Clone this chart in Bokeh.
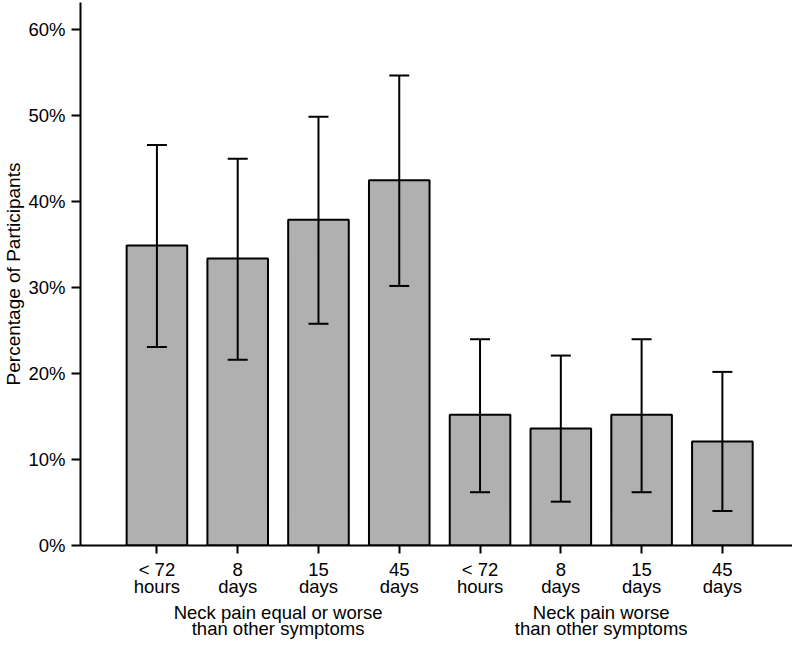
from bokeh.plotting import figure
from bokeh.models import ColumnDataSource, FixedTicker, Whisker, TeeHead, LinearAxis
from bokeh.embed import file_html
from bokeh.resources import INLINE

# ---- data ----
periods = ["< 72\nhours", "8\ndays", "15\ndays", "45\ndays",
           "< 72\nhours", "8\ndays", "15\ndays", "45\ndays"]
groups = ["Neck pain equal or worse\nthan other symptoms",
          "Neck pain worse\nthan other symptoms"]
percent = [34.9, 33.4, 37.9, 42.5, 15.2, 13.6, 15.2, 12.1]
ci_upper = [46.6, 45.0, 49.9, 54.7, 24.0, 22.1, 24.0, 20.2]
ci_lower = [23.1, 21.6, 25.8, 30.2, 6.2, 5.1, 6.2, 4.0]
y_ticks = [0, 10, 20, 30, 40, 50, 60]
y_tick_labels = ["0%", "10%", "20%", "30%", "40%", "50%", "60%"]
y_title = "Percentage of Participants"

FONT = "Liberation Sans"
FS = "18.5px"
W, H = 792, 642

xpos = list(range(1, len(percent) + 1))
src = ColumnDataSource(dict(x=xpos, top=percent, upper=ci_upper, lower=ci_lower))

p = figure(width=W, height=H, x_range=(0.054, 8.868), y_range=(0, 63.18),
           output_backend="svg", toolbar_location=None,
           min_border_left=79, min_border_right=0, min_border_top=2, min_border_bottom=97)
p.background_fill_color = "white"
p.border_fill_color = "white"
p.outline_line_color = None
p.grid.visible = False

p.vbar(x="x", top="top", width=0.75, source=src, fill_color="#b0b0b0",
       line_color="black", line_width=2)

w = Whisker(base="x", upper="upper", lower="lower", source=src, level="overlay",
            line_color="black", line_width=2,
            upper_head=TeeHead(size=20, line_width=2, line_color="black"),
            lower_head=TeeHead(size=20, line_width=2, line_color="black"))
p.add_layout(w)

# axes
for ax in (p.xaxis[0], p.yaxis[0]):
    ax.axis_line_width = 2
    ax.axis_line_color = "black"
    ax.major_tick_line_width = 2
    ax.major_tick_line_color = "black"
    ax.minor_tick_line_color = None
    ax.major_tick_in = 0
    ax.major_label_text_font = FONT
    ax.major_label_text_font_size = FS
    ax.major_label_text_color = "black"

p.xaxis.ticker = FixedTicker(ticks=xpos)
p.xaxis.major_label_overrides = {x: lab for x, lab in zip(xpos, periods)}
p.xaxis.major_tick_out = 8
p.xaxis.major_label_standoff = 5
p.xaxis.major_label_text_line_height = 0.85

p.yaxis.ticker = FixedTicker(ticks=y_ticks)
p.yaxis.major_label_overrides = {t: lab for t, lab in zip(y_ticks, y_tick_labels)}
p.yaxis.major_tick_out = 9
p.yaxis.major_label_standoff = 6
p.yaxis.axis_label = y_title
p.yaxis.axis_label_text_font = FONT
p.yaxis.axis_label_text_font_size = "19px"
p.yaxis.axis_label_text_font_style = "normal"
p.yaxis.axis_label_text_color = "black"
p.yaxis.axis_label_standoff = 1

# group labels as a second, line-less axis below the first
n = len(percent) // len(groups)
group_centers = [sum(xpos[gi * n:(gi + 1) * n]) / n for gi in range(len(groups))]
gax = LinearAxis(ticker=FixedTicker(ticks=group_centers),
                 major_label_overrides={c: g for c, g in zip(group_centers, groups)},
                 axis_line_color=None, major_tick_line_color=None, minor_tick_line_color=None,
                 major_tick_in=0, major_tick_out=0, major_label_standoff=1,
                 major_label_text_font=FONT, major_label_text_font_size=FS,
                 major_label_text_color="black", major_label_text_line_height=0.8)
p.add_layout(gax, "below")

open("out.html", "w").write(file_html(p, INLINE))
